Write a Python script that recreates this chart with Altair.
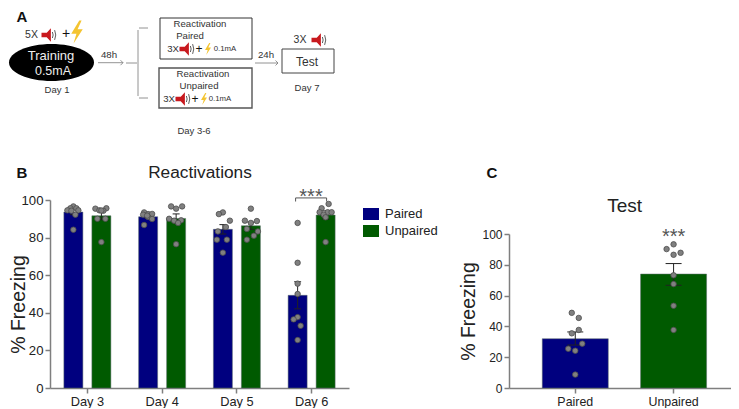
import altair as alt
import pandas as pd

FONT = "Liberation Sans"
days = ["Day 3", "Day 4", "Day 5", "Day 6"]
groups = ["Paired", "Unpaired"]
blue, green = "#00007f", "#005a00"

# Panel B: means, error-bar half widths, individual animals, horizontal jitter
b_means = {"Paired": [93.6, 91.1, 84.4, 49.3], "Unpaired": [91.6, 90.2, 86.3, 92.0]}
b_sem = {"Paired": [1.4, 0.9, 2.5, 7.2], "Unpaired": [2.1, 2.4, 1.9, 2.2]}
b_points = {
    ("Day 3", "Paired"): [96.6, 95.6, 95.6, 94.5, 94.3, 94.5, 92.2, 84.2],
    ("Day 3", "Unpaired"): [95.4, 95.6, 94.5, 94.3, 90.0, 90.0, 94.4, 77.6],
    ("Day 4", "Paired"): [93.4, 92.5, 92.6, 92.2, 91.0, 89.9, 86.7, 91.7],
    ("Day 4", "Unpaired"): [96.6, 96.6, 95.4, 90.0, 89.0, 89.2, 87.8, 76.5],
    ("Day 5", "Paired"): [93.4, 92.5, 89.0, 85.6, 83.3, 78.9, 78.9, 72.0],
    ("Day 5", "Unpaired"): [95.4, 89.0, 88.8, 87.8, 84.6, 83.3, 81.0, 78.9],
    ("Day 6", "Paired"): [87.8, 66.6, 55.5, 50.0, 37.7, 36.5, 33.1, 25.5],
    ("Day 6", "Unpaired"): [97.9, 95.6, 93.5, 93.5, 93.5, 92.2, 90.8, 77.6],
}
b_jitter = {
    ("Day 3", "Paired"): [0, -3, 3, -6, -2, 5, 2, 0],
    ("Day 3", "Unpaired"): [-6, 5, -2, 2, -4, 4, 0, 0],
    ("Day 4", "Paired"): [-4, 0, 4, -5, 0, 4, -4, -1],
    ("Day 4", "Unpaired"): [-5, 6, 0, -7, -2, 5, 2, 0],
    ("Day 5", "Paired"): [0, -4, 7, 3, -5, -6, 4, 0],
    ("Day 5", "Unpaired"): [0, -6, 6, 0, -4, 7, 3, -4],
    ("Day 6", "Paired"): [0, 0, 0, 0, 0, -4, 3, 0],
    ("Day 6", "Unpaired"): [3, -4, -6, 2, 6, -2, 0, 0],
}
b_off = {"Paired": -14, "Unpaired": 14}

# Panel C
c_means = [32.0, 74.0]
c_low = [27.9, 66.7]
c_high = [36.4, 80.8]
c_points = {
    "Paired": [48.8, 45.5, 37.7, 35.5, 28.8, 25.5, 24.2, 8.7],
    "Unpaired": [93.3, 90.2, 87.8, 86.5, 73.2, 67.5, 53.4, 37.7],
}
c_jitter = {
    "Paired": [-3.5, 3.5, 3.5, -3.5, 7, -7, 0, 0],
    "Unpaired": [0, -7, 7, 0, 0, 0, 0, 0],
}

rows_bar, rows_pt = [], []
for g in groups:
    for i, d in enumerate(days):
        m, s = b_means[g][i], b_sem[g][i]
        rows_bar.append(dict(day=d, group=g, mean=m, lo=m - s, hi=m + s, off=b_off[g]))
        for v, j in zip(b_points[(d, g)], b_jitter[(d, g)]):
            rows_pt.append(dict(day=d, group=g, v=v, off=b_off[g] + j))
df_b, df_bp = pd.DataFrame(rows_bar), pd.DataFrame(rows_pt)

H = 380
HALF = 37.375
WC = 222
STEP_C = 98.3
OX, OY = 50, 8  # page position of panel B's view origin
AX = dict(domainColor="#7f7f7f", tickColor="#7f7f7f", domainWidth=1.5, tickWidth=1.5,
          labelColor="#222222", titleColor="#222222", labelFont=FONT, titleFont=FONT, grid=False)

xb = alt.X("day:N", sort=days, title=None, scale=alt.Scale(paddingInner=0, paddingOuter=0),
           axis=alt.Axis(labelAngle=0, labelFontSize=12.8, labelPadding=2, tickSize=5, **AX))
yb_scale = alt.Scale(domain=[0, 100], range=[H, 192], nice=False)
yb = alt.Y("mean:Q", scale=yb_scale, title="% Freezing",
           axis=alt.Axis(values=[0, 20, 40, 60, 80, 100], labelFontSize=13.2, tickSize=5,
                         titleFontSize=19.5, titleFontWeight="normal",
                         titleX=-22, titleY=296, **AX))
xo = alt.XOffset("off:Q", scale=alt.Scale(domain=[-HALF, HALF], range=[0, 2 * HALF], nice=False, zero=False))

CAP = "M-1,0L1,0"
bars = alt.Chart(df_b).mark_bar(width=19, stroke="#5a6a6a", strokeWidth=0.5).encode(
    x=xb, xOffset=xo, y=yb,
    color=alt.Color("group:N", scale=alt.Scale(domain=groups, range=[blue, green]),
                    legend=alt.Legend(title=None, orient="none", legendX=313, legendY=198,
                                      labelFont=FONT, labelFontSize=13, labelColor="#222222",
                                      symbolType="M-1,-0.75L1,-0.75L1,0.75L-1,0.75Z",
                                      symbolSize=256, symbolStrokeWidth=0, rowPadding=2, labelOffset=6)),
)
rule_b = alt.Chart(df_b).mark_rule(color="#222222", strokeWidth=1).encode(
    x=xb, xOffset=xo, y=alt.Y("lo:Q", scale=yb_scale), y2="hi:Q")
cap_hi = alt.Chart(df_b).mark_point(shape=CAP, size=49, stroke="#222222", strokeWidth=1, opacity=1).encode(
    x=xb, xOffset=xo, y=alt.Y("hi:Q", scale=yb_scale))
cap_lo = alt.Chart(df_b).mark_point(shape=CAP, size=49, stroke="#222222", strokeWidth=1, opacity=1).encode(
    x=xb, xOffset=xo, y=alt.Y("lo:Q", scale=yb_scale))
pts_b = alt.Chart(df_bp).mark_point(filled=True, size=30, fill="#808080", stroke="#4d4d4d",
                                    strokeWidth=0.8, opacity=1).encode(
    x=xb, xOffset=xo, y=alt.Y("v:Q", scale=yb_scale))

# significance bracket on day 6 (data coordinates for its height)
br = pd.DataFrame({"top": [101.1], "low": [99.2]})
br_h = alt.Chart(br).mark_rule(color="#555555", strokeWidth=1).encode(
    x=alt.value(245.6), x2=alt.value(276.6), y=alt.Y("top:Q", scale=yb_scale))
br_l = alt.Chart(br).mark_rule(color="#555555", strokeWidth=1).encode(
    x=alt.value(245.6), y=alt.Y("top:Q", scale=yb_scale), y2="low:Q")
br_r = alt.Chart(br).mark_rule(color="#555555", strokeWidth=1).encode(
    x=alt.value(276.6), y=alt.Y("top:Q", scale=yb_scale), y2="low:Q")


def label(txt, x, y, size, color="#333333", weight="normal", align="center"):
    return alt.Chart(alt.Data(values=[{}])).mark_text(
        text=txt, font=FONT, fontSize=size, color=color, fontWeight=weight, align=align, baseline="middle"
    ).encode(x=alt.value(x), y=alt.value(y))


# Panel C
df_c = pd.DataFrame(dict(group=groups, mean=c_means, lo=c_low, hi=c_high, off=[0, 0]))
df_cp = pd.DataFrame([dict(group=g, v=v, off=j) for g in groups
                      for v, j in zip(c_points[g], c_jitter[g])])
xc = alt.X("group:N", sort=groups, title=None,
           scale=alt.Scale(paddingInner=0, paddingOuter=0.129, align=0.675),
           axis=alt.Axis(labelAngle=0, labelFontSize=12.4, labelPadding=2, tickSize=5, **AX))
yc_scale = alt.Scale(domain=[0, 100], range=[H, 226], nice=False)
yc = alt.Y("mean:Q", scale=yc_scale, title="% Freezing",
           axis=alt.Axis(values=[0, 20, 40, 60, 80, 100], labelFontSize=12, tickSize=5,
                         titleFontSize=19.5, titleFontWeight="normal",
                         titleX=-31, titleY=303, **AX))
xoc = alt.XOffset("off:Q", scale=alt.Scale(domain=[-STEP_C / 2, STEP_C / 2], range=[0, STEP_C],
                                           nice=False, zero=False))

bars_c = alt.Chart(df_c).mark_bar(width=66, stroke="#5a6a6a", strokeWidth=0.5).encode(
    x=xc, xOffset=xoc, y=yc,
    color=alt.Color("group:N", scale=alt.Scale(domain=groups, range=[blue, green]), legend=None))
rule_c = alt.Chart(df_c).mark_rule(color="#222222", strokeWidth=1).encode(
    x=xc, xOffset=xoc, y=alt.Y("lo:Q", scale=yc_scale), y2="hi:Q")
caph_c = alt.Chart(df_c).mark_point(shape=CAP, size=256, stroke="#222222", strokeWidth=1, opacity=1).encode(
    x=xc, xOffset=xoc, y=alt.Y("hi:Q", scale=yc_scale))
capl_c = alt.Chart(df_c).mark_point(shape=CAP, size=256, stroke="#222222", strokeWidth=1, opacity=1).encode(
    x=xc, xOffset=xoc, y=alt.Y("lo:Q", scale=yc_scale))
pts_c = alt.Chart(df_cp).mark_point(filled=True, size=30, fill="#808080", stroke="#4d4d4d",
                                    strokeWidth=0.8, opacity=1).encode(
    x=xc, xOffset=xoc, y=alt.Y("v:Q", scale=yc_scale))
panel_c = alt.layer(
    bars_c, rule_c, caph_c, capl_c, pts_c,
    label("***", 164.6, 229, 20, color="#555555"),
    label("Test", 115.6, 198, 19, color="#222222"),
    label("C", -17, 165, 15, color="#111111", weight="bold"),
).properties(width=WC, height=H)

# Panel A: the schematic, drawn in panel B's view
SPK = "M-1,-0.3L-0.3,-0.3L0.25,-0.9L0.25,0.9L-0.3,0.3L-1,0.3Z"
WAV = "M0.45,-0.4Q0.65,0,0.45,0.4M0.75,-0.65Q1.05,0,0.75,0.65"
BOLT = "M0.2,-1L-0.5,0.15L-0.05,0.15L-0.3,1L0.5,-0.25L0.05,-0.25L0.4,-1Z"
ELL = "M-1,0A1,0.435,0,1,1,1,0A1,0.435,0,1,1,-1,0Z"
CHEV = "M-1,-1L0,0L-1,1"


def sym(path, x, y, d, fill=None, stroke=None, sw=1):
    kw = dict(shape=path, size=d * d, opacity=1, filled=fill is not None)
    if fill:
        kw["fill"] = fill
    if stroke:
        kw.update(stroke=stroke, strokeWidth=sw)
    else:
        kw["strokeWidth"] = 0
    return alt.Chart(alt.Data(values=[{}])).mark_point(**kw).encode(
        x=alt.value(x - OX), y=alt.value(y - OY))


def speaker(x, y, d):
    return [sym(SPK, x, y, d, fill="#c8191e"), sym(WAV, x, y, d, stroke="#333333", sw=0.8)]


def t(txt, x, y, size, color="#333333", weight="normal"):
    return label(txt, x - OX, y - OY, size, color=color, weight=weight)


def box(x0, x1, y0, y1, color="#333333", sw=1):
    return alt.Chart(alt.Data(values=[{}])).mark_rect(fill="white", stroke=color, strokeWidth=sw).encode(
        x=alt.value(x0 - OX), x2=alt.value(x1 - OX), y=alt.value(y0 - OY), y2=alt.value(y1 - OY))


def vline(x, y0, y1, color="#777777", sw=0.8):
    return alt.Chart(alt.Data(values=[{}])).mark_rule(color=color, strokeWidth=sw).encode(
        x=alt.value(x - OX), y=alt.value(y0 - OY), y2=alt.value(y1 - OY))


def hline(x0, x1, y, color="#777777", sw=0.8):
    return alt.Chart(alt.Data(values=[{}])).mark_rule(color=color, strokeWidth=sw).encode(
        x=alt.value(x0 - OX), x2=alt.value(x1 - OX), y=alt.value(y - OY))


YEL = "#f4c430"
parts = [
    t("A", 22, 17, 15, color="#111111", weight="bold"),
    t("5X", 31.5, 35, 10.5), *speaker(49, 35, 15), t("+", 66, 34, 14, color="#111111"),
    sym(BOLT, 77, 32, 23, fill=YEL),
    sym(ELL, 51.5, 62.5, 85, fill="#000000"),
    t("Training", 51, 56, 13, color="#eeeeee"), t("0.5mA", 53, 71, 12.5, color="#eeeeee"),
    t("Day 1", 57, 90, 9.5),
    hline(98, 123, 62.7), sym(CHEV, 123, 62.7, 5, stroke="#777777", sw=0.8), t("48h", 109, 55, 9.7),
    hline(126, 137, 63), vline(138, 30, 96), hline(139, 148, 28), hline(139, 148, 98),
    box(160, 252, 18, 59), box(159, 252, 68, 108, color="#555555", sw=1.4),
    t("Reactivation", 200, 24, 9.6), t("Paired", 190, 36, 9.6),
    t("3X", 173, 49, 9.6), *speaker(187, 49, 15), t("+", 199, 49, 12, color="#111111"),
    sym(BOLT, 208, 49, 12, fill=YEL), t("0.1mA", 225, 49, 7.8),
    t("Reactivation", 203, 74, 9.6), t("Unpaired", 199, 86, 9.6),
    t("3X", 169, 99, 9.6), *speaker(183, 99, 15), t("+", 195, 99, 12, color="#111111"),
    sym(BOLT, 204, 99, 12, fill=YEL), t("0.1mA", 220, 99, 7.8),
    t("Day 3-6", 194, 131, 9.5),
    hline(255, 278, 63), sym(CHEV, 278, 63, 5, stroke="#777777", sw=0.8), t("24h", 266, 55, 9.7),
    box(282, 334, 49, 73, color="#444444"), t("Test", 307, 62, 12),
    t("3X", 300, 40, 10.5), *speaker(319, 40, 15), t("Day 7", 307, 88, 9.5),
]

panel_b = alt.layer(
    bars, rule_b, cap_hi, cap_lo, pts_b, br_h, br_l, br_r,
    label("***", 261, 189, 20, color="#555555"),
    label("Reactivations", 150, 165, 17.3, color="#222222"),
    label("B", -28, 165, 15, color="#111111", weight="bold"),
    *parts,
).properties(width=299, height=H)

chart = (alt.hconcat(panel_b, panel_c, spacing=109)
         .resolve_scale(xOffset="independent")
         .properties(padding=0)
         .configure_view(stroke=None))
chart.save("out.html", embed_options={"renderer": "svg", "actions": False})
